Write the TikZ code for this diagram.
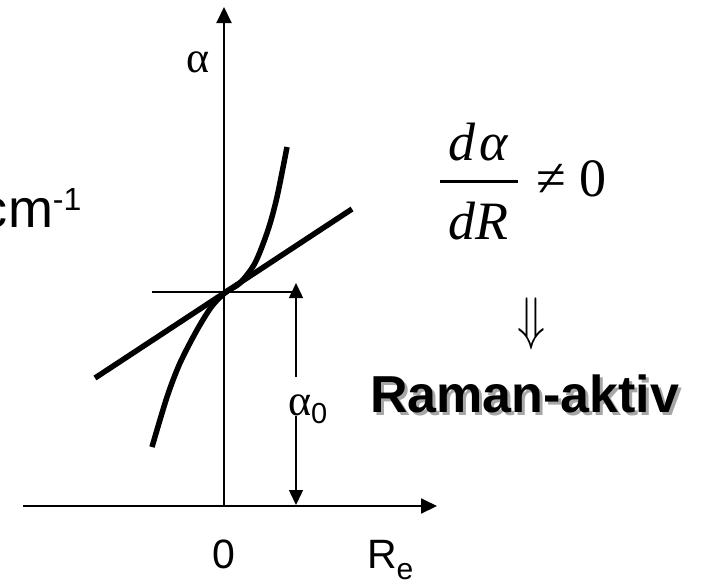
\documentclass[tikz,border=0pt]{standalone}
\usepackage{fontspec}
\setmainfont{Liberation Sans}
\newfontfamily\timesfont{Liberation Serif}
\usetikzlibrary{arrows.meta,positioning}
\tikzset{every picture/.style={line width=2pt}}
\newcommand{\fsz}[1]{\fontsize{#1}{#1}\selectfont}

\begin{document}
\begin{tikzpicture}[x=1pt,y=-1pt,
    axis/.style={line width=2pt,-{Triangle[length=16pt,width=15pt]}},
    dimline/.style={line width=1.5pt},
    dimtip/.style={line width=1.5pt,-{Triangle[length=15pt,width=14pt]}},
    graph/.style={line width=5.5pt},
    lbl/.style={inner sep=0pt,anchor=base west},
    mid/.style={inner sep=0pt,anchor=base}]
    \useasboundingbox (0,0) rectangle (706,582);
    % axes
    \coordinate (o) at (224,506);
    \coordinate (ytip) at (224,7);
    \coordinate (xl) at (23,506);
    \coordinate (xtip) at (437,506);
    \draw[axis] (o) -- (ytip);
    \draw[axis] (xl) -- (xtip);
    % alpha_0 marker
    \coordinate (g0) at (152,292);
    \coordinate (g1) at (296,292);
    \coordinate (a0top) at (296,283);
    \coordinate (a0gt) at (296,377);
    \coordinate (a0gb) at (296,416);
    \coordinate (a0bot) at (296,505);
    \draw[dimline] (g0) -- (g1);
    \draw[dimtip] (a0gt) -- (a0top);
    \draw[dimtip] (a0gb) -- (a0bot);
    % curves
    \coordinate (lnA) at (95,378);
    \coordinate (lnB) at (352,209);
    \draw[graph] (lnA) -- (lnB);
    \draw[graph] plot[smooth] coordinates {(152,447) (167,397) (180,363)
        (197,330) (212,306) (226,292) (240,283) (255,263) (268,230)
        (277,197) (287,147)};
    % labels
    \node[lbl] (alab) at (185,72) {\timesfont\fsz{44}α};
    \node[lbl] (unit) at (-20,227) {\fsz{54}cm\raisebox{17pt}{\fsz{32}-1}};
    \node[lbl] (a0lab) at (287,415) {\timesfont\fsz{44}α\raisebox{-8pt}{\rmfamily\fsz{29}0}};
    \node[mid] (zero) at (224,568) {\fsz{41}0};
    \node[lbl] (re) at (366,568) {\fsz{41}R\raisebox{-11pt}{\fsz{30}e}};
    % derivative
    \node[mid] (num) at (478,160) {\timesfont\itshape\fsz{54}d\hspace{4pt}α};
    \node[mid] (den) at (478,239) {\timesfont\itshape\fsz{54}dR};
    \coordinate (barL) at (440,181);
    \coordinate (barR) at (518,181);
    \draw[line width=3pt] (barL) -- (barR);
    \node[lbl] (neq) at (535,196) {\timesfont\fsz{54}≠ 0};
    \node (impl) at (531,324) {\resizebox*{28pt}{52pt}{$\Downarrow$}};
    \node[lbl,text=black!35] (ramansh) at (372,415) {\bfseries\fsz{52}Raman-aktiv};
    \node[lbl] (raman) at (369,412) {\bfseries\fsz{52}Raman-aktiv};
\end{tikzpicture}
\end{document}
